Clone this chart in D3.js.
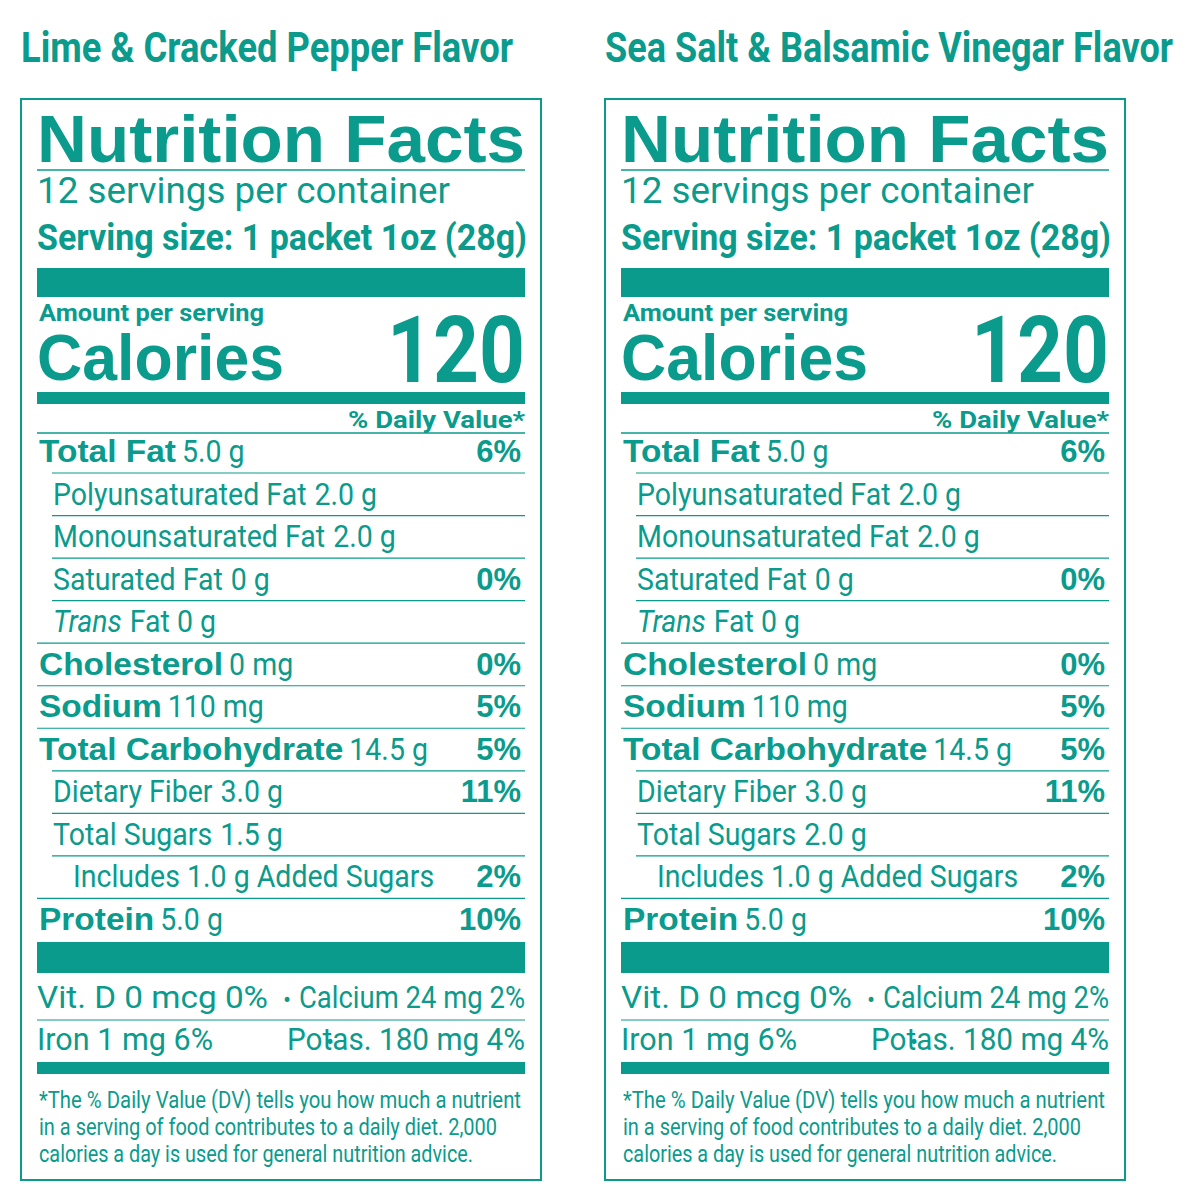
<!DOCTYPE html>
<html><head><meta charset="utf-8">
<script src="https://cdn.jsdelivr.net/npm/d3@7"></script>
<style>body{margin:0;background:#fff}</style></head>
<body><svg id="c" width="1200" height="1200"></svg>
<script>
const flavors = ["Lime & Cracked Pepper Flavor", "Sea Salt & Balsamic Vinegar Flavor"];
const servings = "12 servings per container";
const servingSize = "Serving size: 1 packet 1oz (28g)";
const calories = ["120", "120"];
const rowLabels = ["Total Fat","Polyunsaturated Fat","Monounsaturated Fat","Saturated Fat","Trans","Cholesterol","Sodium","Total Carbohydrate","Dietary Fiber","Total Sugars","Includes 1.0 g Added Sugars","Protein"];
const rowAmounts = [["5.0 g","5.0 g"],["2.0 g","2.0 g"],["2.0 g","2.0 g"],["0 g","0 g"],["Fat 0 g","Fat 0 g"],["0 mg","0 mg"],["110 mg","110 mg"],["14.5 g","14.5 g"],["3.0 g","3.0 g"],["1.5 g","2.0 g"],["",""],["5.0 g","5.0 g"]];
const rowDV = ["6%","","","0%","","0%","5%","5%","11%","","2%","10%"];
const rowLevel = [0,1,1,1,1,0,0,0,1,1,2,0];
const vitLines = [["Vit. D 0 mcg 0%","•","Calcium 24 mg 2%"],["Iron 1 mg 6%","•","Potas. 180 mg 4%"]];
const footnote = ["*The % Daily Value (DV) tells you how much a nutrient","in a serving of food contributes to a daily diet.  2,000","calories a day is used for general nutrition advice."];

const C = "#0a9b8c";
const F = "'Liberation Sans Narrow','Roboto','Liberation Sans',sans-serif";
const FB = "'Liberation Sans',sans-serif";
const svg = d3.select("#c");
const panelX = d3.scaleOrdinal().domain([0,1]).range([21,605]);
const rowY = d3.scaleLinear().domain([0,11]).range([462,930]);

[0,1].forEach(p=>{
  const x0 = panelX(p), L = x0+16, R = x0+504;
  const g = svg.append("g");
  const t = (x,y,s,txt,o={})=>{const e=g.append("text").attr("x",x).attr("y",y).attr("fill",C)
    .attr("font-family",o.fam||F).attr("font-size",s).attr("font-weight",o.b?"bold":"normal")
    .attr("text-anchor",o.a||"start").text(txt); if(o.tl) e.attr("textLength",o.tl).attr("lengthAdjust","spacingAndGlyphs"); if(o.i) e.attr("font-style","italic"); return e;};
  const hl=(y,x1,x2,w)=>g.append("line").attr("x1",x1).attr("x2",x2).attr("y1",y).attr("y2",y).attr("stroke",C).attr("stroke-width",w);
  const bar=(y1,y2)=>g.append("rect").attr("x",L).attr("width",R-L).attr("y",y1).attr("height",y2-y1).attr("fill",C);
  // horizontally scaled text
  const st=(x,y,s,txt,sx,o={})=>{const e=g.append("text").attr("transform",`translate(${x},${y}) scale(${sx},1)`)
    .attr("fill",C).attr("font-family",o.fam||F).attr("font-size",s).attr("font-weight",o.b?"bold":"normal")
    .attr("font-style",o.i?"italic":"normal").text(txt); return e.node().getComputedTextLength()*sx;};

  t(x0, 62, 42, flavors[p], {b:1, tl: p?568:492});
  g.append("rect").attr("x",x0).attr("y",99).attr("width",520).attr("height",1081).attr("fill","none").attr("stroke",C).attr("stroke-width",2);
  t(L, 162, 66, "Nutrition Facts", {b:1, tl:488, fam:FB});
  hl(170,L,R,1.5);
  t(L, 203, 36, servings, {tl:413});
  t(L, 250, 36, servingSize, {b:1, tl:490});
  bar(268,297);
  t(L+2, 321, 23, "Amount per serving", {b:1, tl:225});
  t(L, 380, 64, "Calories", {b:1, tl:247, fam:FB});
  t(R, 382, 92, calories[p], {a:"end", tl:138, b:1});
  bar(392,404);
  t(R, 428, 23, "% Daily Value*", {b:1, a:"end", tl:177});
  hl(433,L,R,1.5);

  rowLabels.forEach((lab,i)=>{
    const y=rowY(i), lv=rowLevel[i], xs=L+2+lv*14+(lv===2?6:0);
    let w;
    if(lv===0) w=st(xs,y,31,lab,1.08,{b:1,fam:FB})+6;
    else if(lab==="Trans") w=st(xs,y,31,"Trans",0.92,{i:1})+8;
    else w=st(xs,y,31,lab,0.92)+ (rowAmounts[i][p]?8:0);
    if(rowAmounts[i][p]) st(xs+w,y,31,rowAmounts[i][p],0.92);
    if(rowDV[i]) t(R-4, y, 31, rowDV[i], {b:1, a:"end", fam:FB});
    if(i<11){ const nl=rowLevel[i+1]; hl(y+11, nl>0?L+15:L, R, 1.2); }
  });
  bar(942,973);
  const vx=[[L,231,L+250,L+262,R-L-262],[L,176,L+293,L+250,R-L-250]];
  vitLines.forEach((v,i)=>{
    const y=1008+i*42, c=vx[i];
    t(c[0], y, 32, v[0], {tl:c[1]});
    t(c[2], y, 24, v[1], {a:"middle"});
    t(c[3], y, 32, v[2], {tl:c[4]});
    if(i===0) hl(y+12,L,R,1.2);
  });
  bar(1062,1074);
  footnote.forEach((f,i)=>t(L+2, 1108+i*27, 23, f, {tl: [482,458,434][i]}));
});
</script></body></html>
